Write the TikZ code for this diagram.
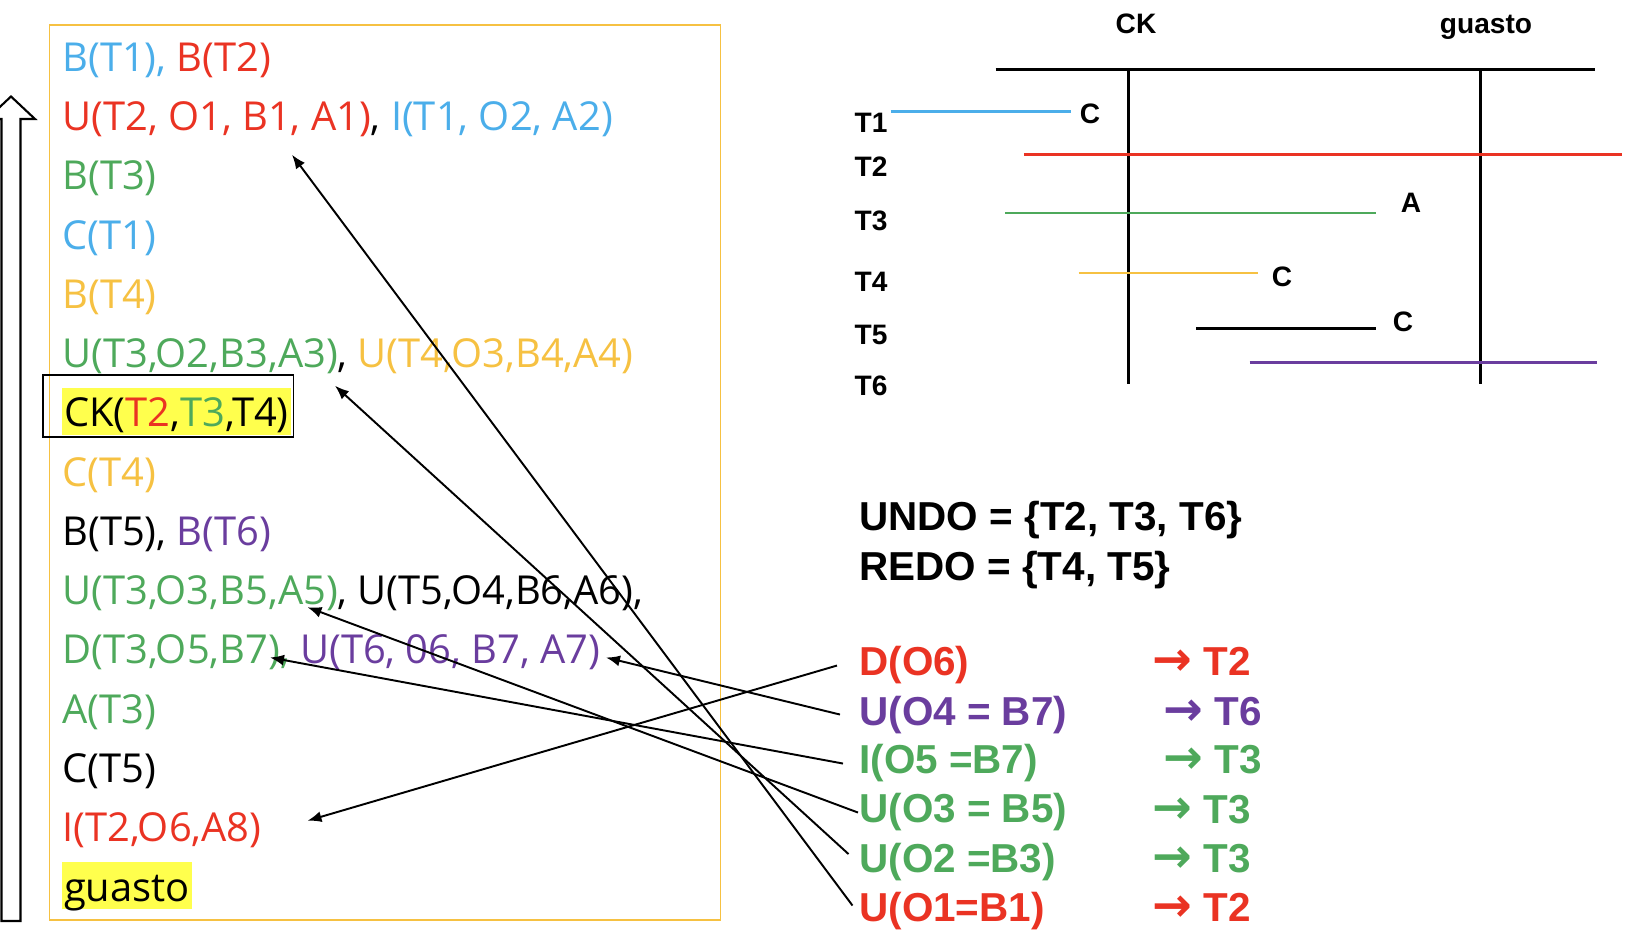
\documentclass[tikz,border=0pt]{standalone}
\usepackage{fontspec}
\setmainfont{Liberation Sans}
\newfontfamily\handfont{Open Sans}
\newfontfamily\symfont{DejaVu Sans}
\usepackage{tikz}
\usetikzlibrary{arrows.meta, positioning}
\definecolor{tblue}{HTML}{4BAEEA}
\definecolor{tred}{HTML}{EA3323}
\definecolor{tgreen}{HTML}{4EA95B}
\definecolor{tgold}{HTML}{F6C142}
\definecolor{tpurple}{HTML}{6A3D9E}
\definecolor{hlyellow}{HTML}{FFFF4D}
\newcommand{\goesto}{{\symfont\bfseries\fontsize{27}{28}\selectfont →}}
\tikzset{
  item/.style={anchor=base west, inner sep=0pt, font=\handfont\fontsize{22.7}{26}\selectfont},
  hl/.style={fill=hlyellow, text height=0.78cm, text depth=0.17cm, inner xsep=1pt, inner ysep=0pt},
  plan/.style={anchor=base west, inner sep=0pt, font=\bfseries\fontsize{23}{28}\selectfont},
  tlabel/.style={anchor=base, inner sep=1pt, font=\bfseries\fontsize{16}{19}\selectfont},
  axis/.style={line width=1.6pt},
  tline/.style={line width=1.5pt},
  link/.style={-{Latex[length=2.8mm, width=2.2mm]}, line width=1.1pt},
  logbox/.style={draw=tgold, line width=0.8pt},
  blockarrow/.style={draw, fill=white, line width=1.2pt},
}

\begin{document}
\begin{tikzpicture}
  \useasboundingbox (0,0) rectangle (32.96,-18.92);
  \draw[logbox] (0.99,-0.50) rectangle (14.41,-18.40);
  \draw[blockarrow] (0.03,-18.42) -- (0.03,-2.38) -- (-0.26,-2.38) -- (0.22,-1.93)
    -- (0.70,-2.38) -- (0.41,-2.38) -- (0.41,-18.42) -- cycle;

  \node[item] (b12) at (1.24,-1.43) {\textcolor{tblue}{B(T1),} \textcolor{tred}{B(T2)}};
  \node[below=1.185cm of b12.base west, item] (u21) {\textcolor{tred}{U(T2, O1, B1, A1)}, \textcolor{tblue}{I(T1, O2, A2)}};
  \node[below=1.185cm of u21.base west, item, tgreen] (b3) {B(T3)};
  \node[below=1.185cm of b3.base west, item, tblue] (c1) {C(T1)};
  \node[below=1.185cm of c1.base west, item, tgold] (b4) {B(T4)};
  \node[below=1.185cm of b4.base west, item] (u34) {\textcolor{tgreen}{U(T3,O2,B3,A3)}, \textcolor{tgold}{U(T4,O3,B4,A4)}};
  \node[below=1.185cm of u34.base west, item, hl] (ck) {CK(\textcolor{tred}{T2},\textcolor{tgreen}{T3},T4)};
  \node[below=1.185cm of ck.base west, item, tgold] (c4) {C(T4)};
  \node[below=1.185cm of c4.base west, item] (b56) {B(T5), \textcolor{tpurple}{B(T6)}};
  \node[below=1.185cm of b56.base west, item] (u35) {\textcolor{tgreen}{U(T3,O3,B5,A5)}, U(T5,O4,B6,A6),};
  \node[below=1.185cm of u35.base west, item] (d36) {\textcolor{tgreen}{D(T3,O5,B7),} \textcolor{tpurple}{U(T6, 06, B7, A7)}};
  \node[below=1.185cm of d36.base west, item, tgreen] (a3) {A(T3)};
  \node[below=1.185cm of a3.base west, item] (c5) {C(T5)};
  \node[below=1.185cm of c5.base west, item, tred] (i2) {I(T2,O6,A8)};
  \node[below=1.185cm of i2.base west, item, hl] (gst) {guasto};
  \draw[line width=1pt] ([xshift=-0.38cm, yshift=0.25cm]ck.north west) rectangle ([xshift=0.05cm, yshift=-0.03cm]ck.south east);

  \node[tlabel] (cklab) at (22.72,-0.67) {CK};
  \node[tlabel] (gulab) at (29.72,-0.67) {guasto};
  \draw[axis] (19.91,-1.386) -- (31.90,-1.386);
  \draw[axis] (22.575,-1.386) -- (22.575,-7.686);
  \draw[axis] (29.61,-1.386) -- (29.61,-7.686);
  \node[tlabel, anchor=base west] (t1) at (17.05,-2.646) {T1};
  \node[tlabel, anchor=base west] (t2) at (17.05,-3.528) {T2};
  \node[tlabel, anchor=base west] (t3) at (17.05,-4.620) {T3};
  \node[tlabel, anchor=base west] (t4) at (17.05,-5.838) {T4};
  \node[tlabel, anchor=base west] (t5) at (17.05,-6.888) {T5};
  \node[tlabel, anchor=base west] (t6) at (17.05,-7.917) {T6};
  \draw[tline, tblue] (17.81,-2.226) -- (21.42,-2.226);
  \draw[tline, tred] (20.475,-3.087) -- (32.445,-3.087);
  \draw[tline, tgreen] (20.10,-4.263) -- (27.51,-4.263);
  \draw[tline, tgold] (21.57,-5.46) -- (25.16,-5.46);
  \draw[tline] (23.92,-6.573) -- (27.51,-6.573);
  \draw[tline, tpurple] (24.99,-7.245) -- (31.94,-7.245);
  \node[tlabel] (e1) at (21.80,-2.478) {C};
  \node[tlabel] (e3) at (28.22,-4.242) {A};
  \node[tlabel] (e4) at (25.64,-5.733) {C};
  \node[tlabel] (e5) at (28.06,-6.636) {C};

  \node[plan] (undo) at (17.18,-10.61) {UNDO = \{T2, T3, T6\}};
  \node[below=1.01cm of undo.base west, plan] (redo) {REDO = \{T4, T5\}};

  \node[plan, tred] (do6) at (17.18,-13.52) {D(O6)};
  \node[below=0.98cm of do6.base west, plan, tpurple] (uo4) {U(O4 = B7)};
  \node[below=0.98cm of uo4.base west, plan, tgreen] (io5) {I(O5 =B7)};
  \node[below=0.98cm of io5.base west, plan, tgreen] (uo3) {U(O3 = B5)};
  \node[below=0.98cm of uo3.base west, plan, tgreen] (uo2) {U(O2 =B3)};
  \node[below=0.98cm of uo2.base west, plan, tred] (uo1) {U(O1=B1)};
  \node[plan, tred] (to6) at (23.04,-13.52) {\goesto\ T2};
  \node[plan, tpurple] (to4) at (23.27,-14.50) {\goesto\ T6};
  \node[plan, tgreen] (to5) at (23.27,-15.48) {\goesto\ T3};
  \node[plan, tgreen] (to3) at (23.04,-16.46) {\goesto\ T3};
  \node[plan, tgreen] (to2) at (23.04,-17.44) {\goesto\ T3};
  \node[plan, tred] (to1) at (23.04,-18.42) {\goesto\ T2};

  \draw[link] ([xshift=-0.44cm]do6.west) -- ([shift={(4.91,0.42)}]i2.base west);
  \draw[link] ([xshift=-0.38cm]uo4.west) -- ([shift={(10.88,0.13)}]d36.base west);
  \draw[link] ([xshift=-0.32cm]io5.west) -- ([shift={(4.16,0.13)}]d36.base west);
  \draw[link] ([xshift=-0.02cm]uo3.west) -- ([shift={(4.91,-0.05)}]u35.base west);
  \draw[link] ([shift={(-0.21,0.15)}]uo2.west) -- ([shift={(5.46,-0.36)}]u34.base west);
  \draw[link] ([shift={(-0.13,0.1)}]uo1.west) -- ([shift={(4.60,-0.48)}]u21.base west);
\end{tikzpicture}
\end{document}
